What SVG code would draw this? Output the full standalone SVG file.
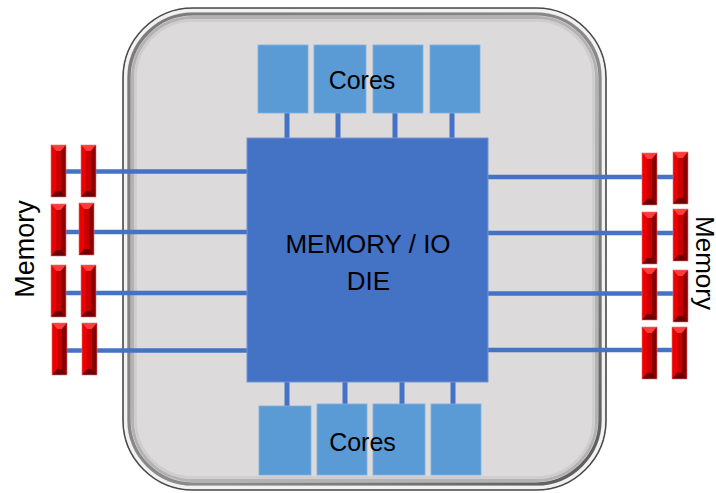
<svg xmlns="http://www.w3.org/2000/svg" width="716" height="493" viewBox="0 0 716 493">
  <style>
    .core { fill: #5B9BD5; stroke: #7fb0de; stroke-width: 0.8; }
    .die { fill: #4472C4; stroke: #7393d2; stroke-width: 1; }
    .bus { stroke: #4472C4; stroke-width: 5; fill: none; }
    .link { stroke: #4472C4; stroke-width: 4.5; fill: none; }
    .lbl { font-family: "Liberation Sans", Arial, sans-serif; fill: #000; }
  </style>
  <defs>
    <linearGradient id="rimShade" x1="0" y1="0" x2="1" y2="1">
      <stop offset="0" stop-color="#7a7a7a"/>
      <stop offset="0.6" stop-color="#8c8c8c"/>
      <stop offset="1" stop-color="#5a5a5a"/>
    </linearGradient>
    <!-- bevelled DIMM stick, 15 x 52 -->
    <g id="dimm">
      <rect x="0" y="0" width="15" height="52" fill="#d00000"/>
      <polygon points="0,0 15,0 10,6 5,6" fill="#ff3b3b"/>
      <polygon points="0,0 5,6 5,46 0,52" fill="#ee0000"/>
      <polygon points="15,0 15,52 10,46 10,6" fill="#8a0000"/>
      <polygon points="0,52 15,52 10,46 5,46" fill="#6a0000"/>
      <rect x="5" y="6" width="5" height="40" fill="#c80000"/>
      <rect x="0" y="0" width="15" height="52" fill="none" stroke="#e87070" stroke-width="0.6"/>
    </g>
  </defs>

  <!-- package substrate with bevelled rim -->
  <g id="package">
    <rect x="123" y="8" width="483" height="482" rx="70" fill="#DCDADB" stroke="#4a4a4a" stroke-width="1.6"/>
    <rect x="125.5" y="10.5" width="478" height="477" rx="67.5" fill="none" stroke="#f2f2f2" stroke-width="3"/>
    <rect x="129" y="14" width="471" height="470" rx="64" fill="none" stroke="url(#rimShade)" stroke-width="3.2"/>
    <rect x="132.5" y="17.5" width="464" height="463" rx="60.5" fill="none" stroke="#b4b3b4" stroke-width="3"/>
    <rect x="135.5" y="20.5" width="458" height="457" rx="57.5" fill="none" stroke="#cecccd" stroke-width="2.5"/>
  </g>

  <!-- interconnects -->
  <g id="connectors">
    <line class="bus" x1="287" y1="113" x2="287" y2="139"/>
    <line class="bus" x1="338" y1="113" x2="338" y2="139"/>
    <line class="bus" x1="395" y1="113" x2="395" y2="139"/>
    <line class="bus" x1="452" y1="113" x2="452" y2="139"/>
    <line class="bus" x1="287" y1="381" x2="287" y2="406"/>
    <line class="bus" x1="345" y1="381" x2="345" y2="405"/>
    <line class="bus" x1="402" y1="381" x2="402" y2="405"/>
    <line class="bus" x1="453" y1="381" x2="453" y2="405"/>
    <line class="link" x1="66" y1="171.5" x2="248" y2="171.5"/>
    <line class="link" x1="66" y1="232" x2="248" y2="232"/>
    <line class="link" x1="66" y1="293" x2="248" y2="293"/>
    <line class="link" x1="66" y1="350.5" x2="248" y2="350.5"/>
    <line class="link" x1="487" y1="177" x2="674" y2="177"/>
    <line class="link" x1="487" y1="233" x2="674" y2="233"/>
    <line class="link" x1="487" y1="293.5" x2="674" y2="293.5"/>
    <line class="link" x1="487" y1="350" x2="674" y2="350"/>
  </g>

  <g id="io-die">
    <rect class="die" x="247" y="138" width="241" height="244"/>
    <text class="lbl" x="368" y="253" font-size="26" text-anchor="middle">MEMORY / IO</text>
    <text class="lbl" x="368.5" y="290" font-size="26" text-anchor="middle">DIE</text>
  </g>

  <g id="cores-top">
    <rect class="core" x="258" y="45" width="50" height="68"/>
    <rect class="core" x="314" y="45" width="52" height="68"/>
    <rect class="core" x="373" y="45" width="50" height="68"/>
    <rect class="core" x="430" y="45" width="50" height="68"/>
    <text class="lbl" x="362" y="89" font-size="25" text-anchor="middle">Cores</text>
  </g>

  <g id="cores-bottom">
    <rect class="core" x="259" y="406" width="52" height="69"/>
    <rect class="core" x="317" y="404" width="50" height="71"/>
    <rect class="core" x="373" y="404" width="52" height="71"/>
    <rect class="core" x="431" y="404" width="50" height="71"/>
    <text class="lbl" x="362.5" y="451" font-size="25" text-anchor="middle">Cores</text>
  </g>

  <g id="memory-left">
    <use href="#dimm" transform="translate(51,145)"/>
    <use href="#dimm" transform="translate(81,145)"/>
    <use href="#dimm" transform="translate(51,204)"/>
    <use href="#dimm" transform="translate(79,203)"/>
    <use href="#dimm" transform="translate(51,265)"/>
    <use href="#dimm" transform="translate(81,265)"/>
    <use href="#dimm" transform="translate(52,323)"/>
    <use href="#dimm" transform="translate(82,323)"/>
    <text class="lbl" font-size="27" text-anchor="middle" transform="translate(34,249) rotate(-90)">Memory</text>
  </g>

  <g id="memory-right">
    <use href="#dimm" transform="translate(642,153)"/>
    <use href="#dimm" transform="translate(673,152)"/>
    <use href="#dimm" transform="translate(642,212)"/>
    <use href="#dimm" transform="translate(673,209)"/>
    <use href="#dimm" transform="translate(642,268)"/>
    <use href="#dimm" transform="translate(673,270)"/>
    <use href="#dimm" transform="translate(642,327)"/>
    <use href="#dimm" transform="translate(672,327)"/>
    <text class="lbl" font-size="26" text-anchor="middle" transform="translate(696,263) rotate(90)">Memory</text>
  </g>
</svg>
